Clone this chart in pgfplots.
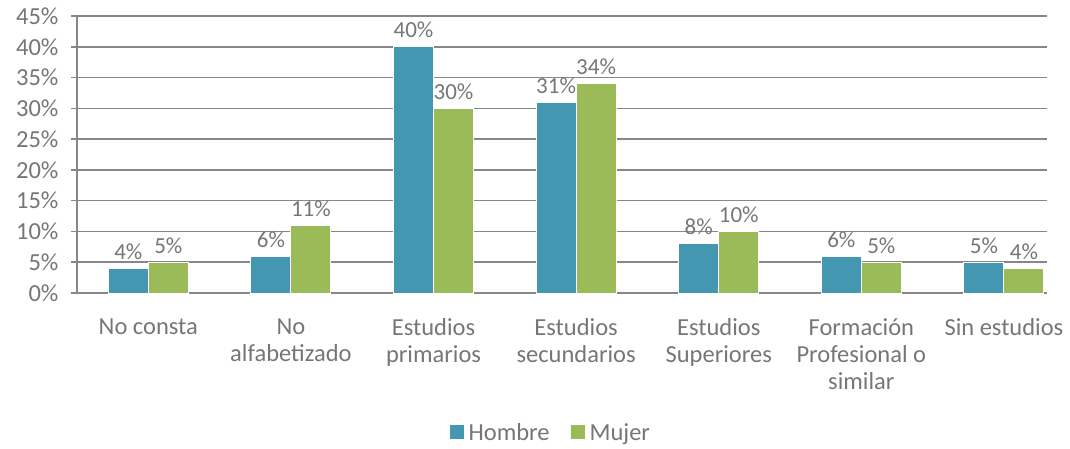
\documentclass[border=0pt]{standalone}
\usepackage{pgfplots}
\pgfplotsset{compat=1.18}
\usepackage{fontspec}
\setmainfont{Carlito}
\definecolor{hombre}{RGB}{67,151,176}
\definecolor{mujer}{RGB}{155,187,89}
\definecolor{txt}{RGB}{118,118,118}
\definecolor{gridc}{RGB}{135,135,135}
\begin{document}
\begin{tikzpicture}
\begin{axis}[
    scale only axis,
    width=970pt, height=277pt,
    ybar=0pt, bar width=40pt,
    xmin=-0.5, xmax=6.302,
    ymin=0, ymax=45,
    xtick={0,...,6},
    xticklabels={No consta, No\\alfabetizado, Estudios\\primarios, Estudios\\secundarios, Estudios\\Superiores, Formación\\Profesional o\\similar, Sin estudios},
    xticklabel style={align=center, font=\fontsize{24.5}{27}\selectfont, text=txt, yshift=-16pt},
    major x tick style={draw=none},
    extra x ticks={-0.5,0.5,1.5,2.5,3.5,4.5,5.5},
    extra x tick labels={},
    extra x tick style={major tick length=7pt, tick style={draw=gridc, line width=1.5pt}, tick align=outside, grid=none},
    ytick={0,5,...,45},
    yticklabel={\pgfmathprintnumber{\tick}\%},
    yticklabel style={font=\fontsize{24.5}{27}\selectfont, text=txt, xshift=-9pt},
    /pgf/number format/assume math mode=true,
    ymajorgrids,
    grid style={draw=gridc, line width=1.5pt},
    major y tick style={draw=gridc, line width=1.5pt},
    tick align=outside, major tick length=6pt,
    axis x line*=bottom, axis y line*=left,
    axis line style={draw=gridc, line width=1.5pt, -},
    nodes near coords={\pgfmathprintnumber{\pgfplotspointmeta}\%},
    nodes near coords style={font=\fontsize{23}{26}\selectfont, text=txt, yshift=5pt},
    legend style={at={(0.49,-0.505)}, anchor=center, draw=none, legend columns=2,
        font=\fontsize{24.5}{27}\selectfont, text=txt, nodes={inner xsep=5pt},
        /tikz/every even column/.append style={column sep=16pt}},
    legend image code/.code={\draw[#1, draw=none] (0pt,-6pt) rectangle (14pt,8pt);},
]
\addplot[fill=hombre, draw=white, line width=1pt] coordinates {(0,4) (1,6) (2,40) (3,31) (4,8) (5,6) (6,5)};
\addplot[fill=mujer, draw=white, line width=1pt] coordinates {(0,5) (1,11) (2,30) (3,34) (4,10) (5,5) (6,4)};
\legend{Hombre, Mujer}
\end{axis}
\pgfresetboundingbox
\path[use as bounding box] (-77pt,-155pt) rectangle (993pt,293pt);
\end{tikzpicture}
\end{document}
